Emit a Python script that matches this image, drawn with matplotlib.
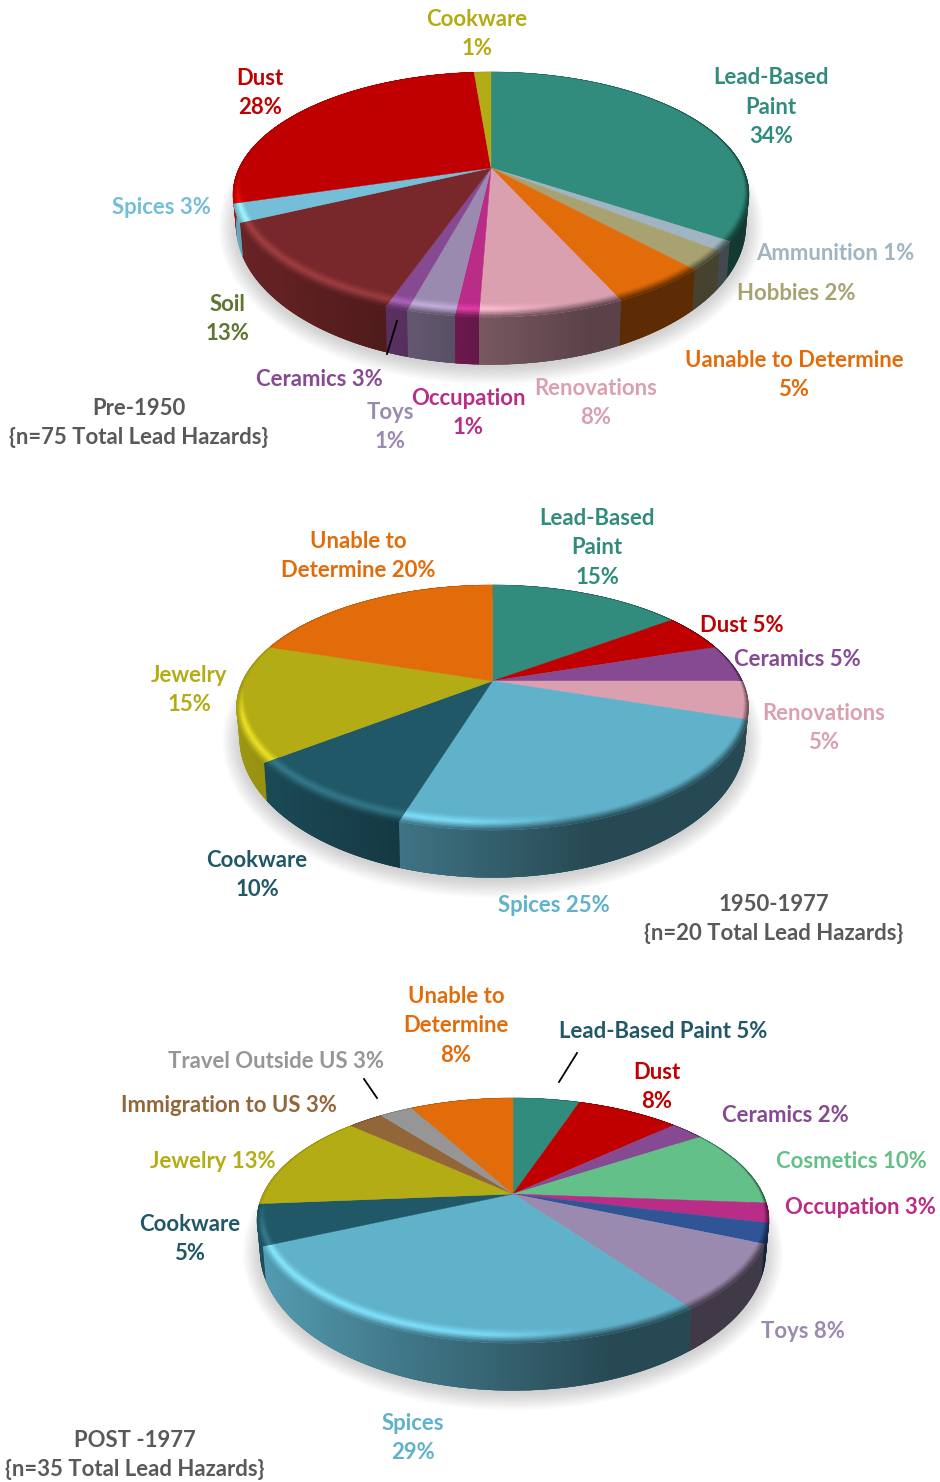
import numpy as np
import matplotlib
matplotlib.use('Agg')
import matplotlib.pyplot as plt
from matplotlib.collections import PolyCollection
from matplotlib.colors import to_rgb

plt.rcParams['font.family'] = ['Lato', 'DejaVu Sans']

# Colours
teal = '#318C7D'
red = '#C00000'
olive = '#B4AC14'
sky = '#60B2CB'
sky_light = '#74BED8'
maroon = '#78282A'
purple = '#864A92'
lavender = '#9B8AAF'
magenta = '#B92C87'
pink = '#DBA0B0'
orange = '#E36C0A'
khaki = '#A8A272'
steel = '#A0B4C2'
navy_teal = '#205867'
green = '#63C088'
blue = '#2F5597'
brown = '#936639'
grey = '#969696'
soil_text = '#5F7530'
note_text = '#595959'

# Data: clockwise from 12 o'clock, share of the pie
pre1950_values = [34.3, 1.3, 2.5, 5.1, 7.4, 1.2, 2.45, 1.15, 12.6, 2.4, 28.3, 1.3]
pre1950_colors = [teal, steel, khaki, orange, pink, magenta, lavender, purple, maroon, sky_light, red, olive]

mid_values = [15, 5, 5, 5, 24.8, 9.8, 15.4, 20]
mid_colors = [teal, red, purple, pink, sky, navy_teal, olive, orange]

post_values = [5.2, 8.0, 2.6, 10.4, 2.6, 2.6, 8.6, 28.3, 5.4, 13.0, 2.7, 2.6, 8.0]
post_colors = [teal, red, purple, green, magenta, blue, lavender, sky, navy_teal, olive, brown, grey, orange]

pre1950_labels = [
    ('Cookware\n1%', 477, 33, olive),
    ('Dust\n28%', 260, 92, red),
    ('Lead-Based\nPaint\n34%', 771, 106, teal),
    ('Spices 3%', 161, 207, sky_light),
    ('Ammunition 1%', 835, 254, steel),
    ('Hobbies 2%', 796, 293, khaki),
    ('Uanable to Determine\n5%', 794, 374, orange),
    ('Renovations\n8%', 596, 402, pink),
    ('Occupation\n1%', 468, 412, magenta),
    ('Toys\n1%', 390, 426, lavender),
    ('Ceramics 3%', 319, 379, purple),
    ('Soil\n13%', 227, 318, soil_text),
    ('Pre-1950\n{n=75 Total Lead Hazards}', 139, 422, note_text),
]
mid_labels = [
    ('Lead-Based\nPaint\n15%', 597, 547, teal),
    ('Unable to\nDetermine 20%', 358, 555, orange),
    ('Dust 5%', 742, 626, red),
    ('Ceramics 5%', 797, 659, purple),
    ('Renovations\n5%', 824, 727, pink),
    ('Jewelry\n15%', 189, 689, olive),
    ('Cookware\n10%', 257, 874, navy_teal),
    ('Spices 25%', 554, 905, sky),
    ('1950-1977\n{n=20 Total Lead Hazards}', 774, 918, note_text),
]
post_labels = [
    ('Unable to\nDetermine\n8%', 456, 1025, orange),
    ('Lead-Based Paint 5%', 663, 1032, navy_teal),
    ('Dust\n8%', 657, 1086, red),
    ('Ceramics 2%', 785, 1115, purple),
    ('Cosmetics 10%', 851, 1161, green),
    ('Occupation 3%', 860, 1208, magenta),
    ('Toys 8%', 803, 1332, lavender),
    ('Travel Outside US 3%', 276, 1061, grey),
    ('Immigration to US 3%', 229, 1105, brown),
    ('Jewelry 13%', 213, 1162, olive),
    ('Cookware\n5%', 190, 1238, navy_teal),
    ('Spices\n29%', 413, 1437, sky),
    ('POST -1977\n{n=35 Total Lead Hazards}', 135, 1454, note_text),
]

# Shape of the tilted pie, in pixels
FAR = 96.0
NEAR = 149.0
CY_OFF = (NEAR - FAR) / 2
RY = (NEAR + FAR) / 2
P = (NEAR - FAR) / (NEAR + FAR)
B = FAR * (1 + P)


def rim(theta, cx, cy, rx):
    # perspective circle, centre of the pie lands above the ellipse centre
    X = np.sin(theta)
    Y = np.cos(theta)
    w = 1 + P * Y
    return cx + rx * np.sqrt(1 - P ** 2) * X / w, cy - B * Y / w


def bottom(x, y, cx, cy, rx, dy, new_rx, new_ry):
    # same angle on the lower ellipse
    ey = cy + CY_OFF
    return cx + (x - cx) * new_rx / rx, ey + dy + (y - ey) * new_ry / RY


def side_factor(u):
    return np.interp(u, [-1, -0.45, 0.05, 0.4, 1], [0.88, 0.68, 0.52, 0.41, 0.41])


def draw_pie(ax, values, colors, cx, cy, rx):
    edges = np.cumsum([0] + list(values)) / np.sum(values) * 2 * np.pi

    # soft shadow
    t = np.linspace(0, 2 * np.pi, 200)
    sx, sy = rim(t, cx, cy, rx)
    for s in np.linspace(17, 0, 12):
        hx, hy = bottom(sx, sy, cx, cy, rx, 33, rx - 3 + s, 140 + s)
        ax.fill(hx, hy, color='#707070', alpha=0.028, lw=0, zorder=1)

    # wall, each strip runs over the next one so no seams show
    quads, cols = [], []
    for i, c in enumerate(colors):
        base = np.array(to_rgb(c))
        n = max(3, int((edges[i + 1] - edges[i]) / 0.01))
        th = np.linspace(edges[i], edges[i + 1], n)
        x, y = rim(th, cx, cy, rx)
        bx, by = bottom(x, y, cx, cy, rx, 30, rx - 3, 140)
        mid = n // 2
        ax.fill(np.r_[x, bx[::-1]], np.r_[y, by[::-1]],
                color=base * side_factor((x[mid] - cx) / rx), lw=0.3, zorder=2)
        for j in range(n - 1):
            k = min(j + 2, n - 1)
            quads.append([(x[j], y[j]), (x[k], y[k]), (bx[k], by[k]), (bx[j], by[j])])
            cols.append(np.clip(base * side_factor((x[j] - cx) / rx), 0, 1))
    ax.add_collection(PolyCollection(quads, facecolors=cols, edgecolors='none', zorder=2.5))

    # bevel band and flat top
    steps = np.linspace(0, 1, 10)
    quads, cols = [], []
    for i, c in enumerate(colors):
        base = np.array(to_rgb(c))
        n = max(3, int((edges[i + 1] - edges[i]) / 0.01))
        th = np.linspace(edges[i], edges[i + 1], n)
        x, y = rim(th, cx, cy, rx)
        w = np.interp(np.cos(th), [-1, 0, 1], [0.095, 0.02, 0.0])
        ix = x + (cx - x) * w
        iy = y + (cy - y) * w
        ax.fill(np.r_[cx, x], np.r_[cy, y], color=c, lw=0.3, zorder=3)
        for j in range(n - 1):
            k = min(j + 2, n - 1)
            u = (x[j] - cx) / rx
            side = base * side_factor(u)
            # the highlight only sits on the front left of the rim
            glow = np.interp(u, [-1, -0.1, 0.3], [1.0, 0.75, 0.0]) * np.interp(np.cos(th[j]), [-0.3, -0.05], [1, 0])
            light = np.clip(base + glow * (0.24 * base + 0.06), 0, 1)
            for a, b in zip(steps[:-1], steps[1:]):
                m = (a + b) / 2
                if m < 0.45:
                    col = base + (light - base) * m / 0.45
                else:
                    col = light + (side - light) * (m - 0.45) / 0.55
                e = min(b + 0.12, 1)
                p0 = (ix[j] + a * (x[j] - ix[j]), iy[j] + a * (y[j] - iy[j]))
                p1 = (ix[k] + a * (x[k] - ix[k]), iy[k] + a * (y[k] - iy[k]))
                p2 = (ix[k] + e * (x[k] - ix[k]), iy[k] + e * (y[k] - iy[k]))
                p3 = (ix[j] + e * (x[j] - ix[j]), iy[j] + e * (y[j] - iy[j]))
                quads.append([p0, p1, p2, p3])
                cols.append(np.clip(col, 0, 1))
    ax.add_collection(PolyCollection(quads, facecolors=cols, edgecolors='none', zorder=3.5))


def draw_labels(ax, labels):
    for text, x, y, color in labels:
        # multi-line blocks sit a pixel lower
        shift = 1 if '\n' in text else 0
        ax.text(x, y + shift, text, color=color, ha='center', va='center', fontsize=15.9,
                fontweight='bold', linespacing=1.5, zorder=6)


fig = plt.figure(figsize=(9.4, 14.82), dpi=100)
ax = fig.add_axes([0, 0, 1, 1])
ax.set_xlim(0, 940)
ax.set_ylim(1482, 0)
ax.axis('off')

draw_pie(ax, pre1950_values, pre1950_colors, 491, 168, 258)
draw_pie(ax, mid_values, mid_colors, 492.5, 681, 256)
draw_pie(ax, post_values, post_colors, 513, 1194, 256)

draw_labels(ax, pre1950_labels)
draw_labels(ax, mid_labels)
draw_labels(ax, post_labels)

# leader lines
ax.plot([397, 387], [321, 354], color='black', lw=1.3, zorder=5)
ax.plot([577, 559], [1053, 1082], color='black', lw=1.3, zorder=5)
ax.plot([364, 377], [1079, 1098], color='black', lw=1.3, zorder=5)

fig.savefig('out.png', dpi=100)
